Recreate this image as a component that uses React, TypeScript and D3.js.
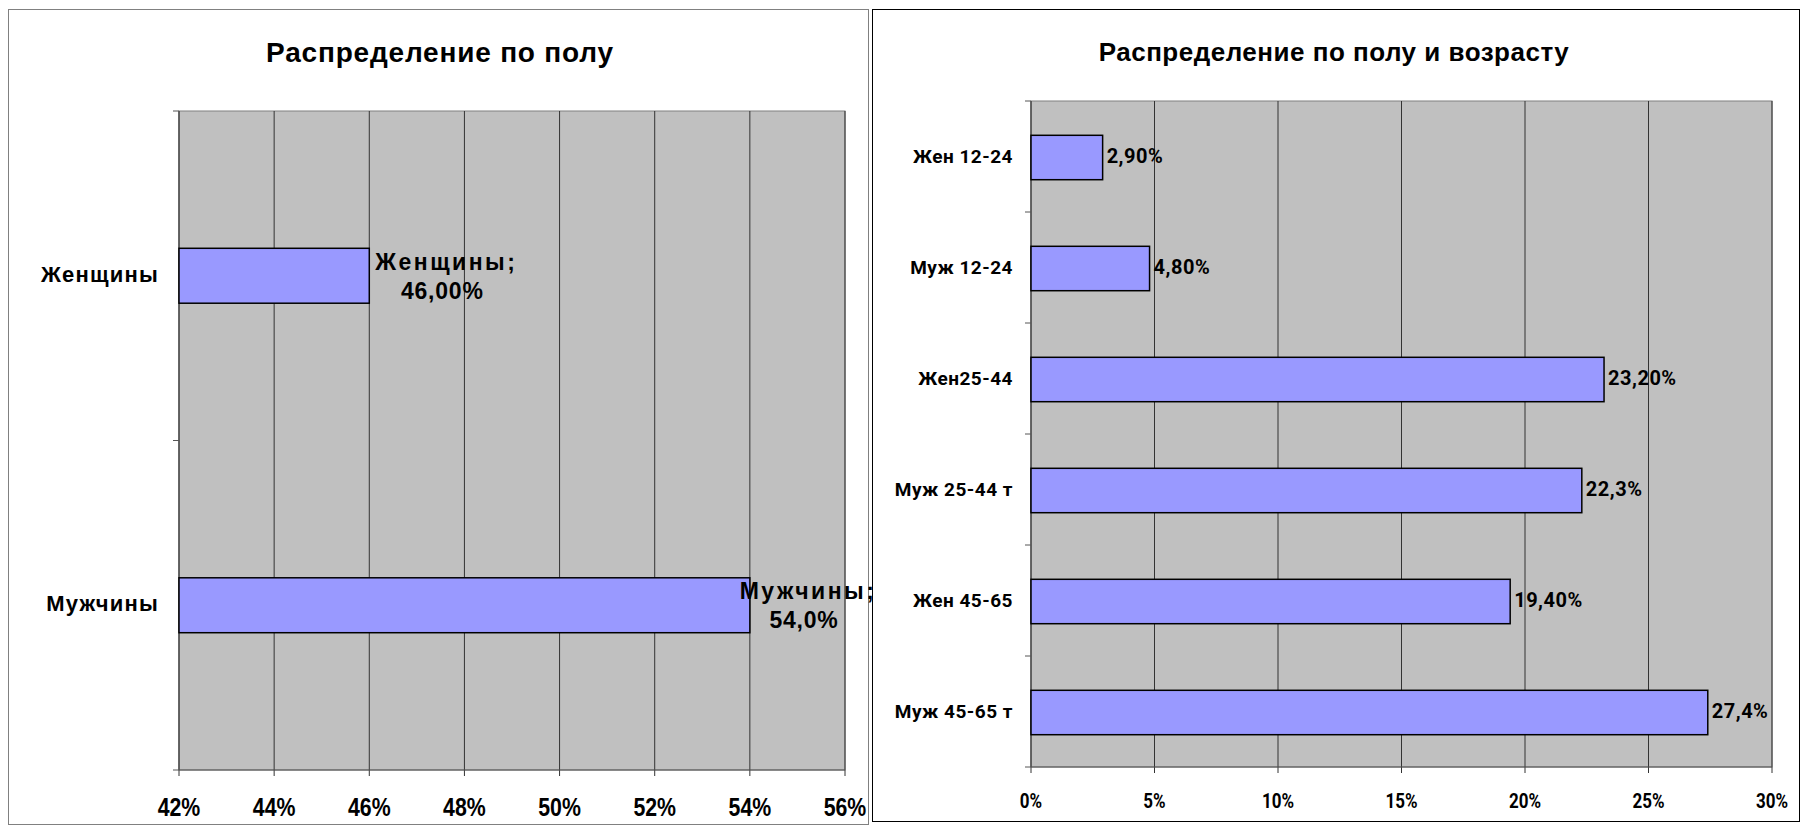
import React from 'react';
import * as d3 from 'd3';

const W = 1808,
      H = 826;

// left chart: gender
const genderCats = ['Женщины', 'Мужчины'];
const genderVals = [46.0, 54.0];
const genderLabels = [['Женщины;', '46,00%'], ['Мужчины;', '54,0%']];
const genderTicks = [42, 44, 46, 48, 50, 52, 54, 56];

// right chart: gender and age
const ageCats = ['Жен 12-24', 'Муж 12-24', 'Жен25-44', 'Муж 25-44 т', 'Жен 45-65', 'Муж 45-65 т'];
const ageVals = [2.9, 4.8, 23.2, 22.3, 19.4, 27.4];
const ageLabels = ['2,90%', '4,80%', '23,20%', '22,3%', '19,40%', '27,4%'];
const ageTicks = [0, 5, 10, 15, 20, 25, 30];

const PLOT_BG = '#c0c0c0';
const BAR = '#9999ff';
const FONT = '"Liberation Sans", Arial, sans-serif';
const ROBOTO = 'Roboto, "Liberation Sans", sans-serif';

const GenderChart = () => {
    const x0 = 179, x1 = 845, y0 = 111, y1 = 770;
    const x = d3.scaleLinear().domain([42, 56]).range([x0, x1]);
    const y = d3.scaleBand().domain(genderCats).range([y0, y1]).padding(0);
    const barH = y.bandwidth() / 6; // gap width 500%
    const bounds = d3.range(genderCats.length + 1).map(i => y0 + i * y.step());

    return (
        <g>
            <rect x={8.5} y={9.5} width={860} height={815} fill="#fff" stroke="#808080" />
            <text x={440} y={55} textAnchor="middle" dominantBaseline="middle"
                  fontFamily={FONT} fontWeight="bold" fontSize={28} letterSpacing={0.8}>Распределение по полу</text>
            <rect x={x0} y={y0} width={x1 - x0} height={y1 - y0} fill={PLOT_BG} stroke="#808080" />
            {genderTicks.map(t => (
                <line key={t} x1={x(t)} x2={x(t)} y1={y0} y2={y1 + 6} stroke="#333" strokeWidth={1} />
            ))}
            {bounds.map((b, i) => (
                <line key={i} x1={x0 - 6} x2={x0} y1={b} y2={b} stroke="#555" />
            ))}
            <line x1={x0} x2={x0} y1={y0} y2={y1} stroke="#555" />
            <line x1={x0} x2={x1} y1={y1} y2={y1} stroke="#555" />
            {genderCats.map((c, i) => {
                const cy = (y(c) as number) + y.bandwidth() / 2;
                const end = x(genderVals[i]);
                const lx = Math.min(end + 77, 808);
                return (
                    <g key={c}>
                        <rect x={x0} y={cy - barH / 2} width={end - x0} height={barH}
                              fill={BAR} stroke="#000" strokeWidth={1.5} />
                        <text x={159} y={cy} textAnchor="end" dominantBaseline="middle"
                              fontFamily={FONT} fontWeight="bold" fontSize={22} letterSpacing={1.2}>{c}</text>
                        <text x={lx} y={cy - 12} textAnchor="middle" dominantBaseline="middle"
                              fontFamily={FONT} fontWeight="bold" fontSize={23} letterSpacing={2.5}>{genderLabels[i][0]}</text>
                        <text x={lx - 4} y={cy + 17} textAnchor="middle" dominantBaseline="middle"
                              fontFamily={FONT} fontWeight="bold" fontSize={23} letterSpacing={0.8}>{genderLabels[i][1]}</text>
                    </g>
                );
            })}
            {genderTicks.map(t => (
                <text key={t} transform={`translate(${x(t)},809) scale(0.82,1)`} textAnchor="middle" dominantBaseline="middle"
                      fontFamily={FONT} fontWeight="bold" fontSize={26}>{t}%</text>
            ))}
        </g>
    );
};

const AgeChart = () => {
    const x0 = 1031, x1 = 1772, y0 = 101, y1 = 767;
    const x = d3.scaleLinear().domain([0, 30]).range([x0, x1]);
    const y = d3.scaleBand().domain(ageCats).range([y0, y1]).padding(0);
    const barH = y.bandwidth() / 2.5; // gap width 150%
    const bounds = d3.range(ageCats.length + 1).map(i => y0 + i * y.step());

    return (
        <g>
            <rect x={872.5} y={9.5} width={927} height={812} fill="#fff" stroke="#000" />
            <text x={1334} y={54} textAnchor="middle" dominantBaseline="middle"
                  fontFamily={FONT} fontWeight="bold" fontSize={26} letterSpacing={0.5}>Распределение по полу и возрасту</text>
            <rect x={x0} y={y0} width={x1 - x0} height={y1 - y0} fill={PLOT_BG} stroke="#808080" />
            {ageTicks.map(t => (
                <line key={t} x1={x(t)} x2={x(t)} y1={y0} y2={y1 + 6} stroke="#333" strokeWidth={1} />
            ))}
            {bounds.map((b, i) => (
                <line key={i} x1={x0 - 6} x2={x0} y1={b} y2={b} stroke="#555" />
            ))}
            <line x1={x0} x2={x0} y1={y0} y2={y1} stroke="#555" />
            <line x1={x0} x2={x1} y1={y1} y2={y1} stroke="#555" />
            {ageCats.map((c, i) => {
                const cy = (y(c) as number) + y.bandwidth() / 2 + 1;
                const end = x(ageVals[i]);
                return (
                    <g key={c}>
                        <rect x={x0} y={cy - barH / 2} width={end - x0} height={barH}
                              fill={BAR} stroke="#000" strokeWidth={1.5} />
                        <text x={1013} y={cy} textAnchor="end" dominantBaseline="middle"
                              fontFamily={ROBOTO} fontWeight="bold" fontSize={19} letterSpacing={0.5}>{c}</text>
                        <text x={end + 4} y={cy} dominantBaseline="middle"
                              fontFamily={ROBOTO} fontWeight="bold" fontSize={20} letterSpacing={0.5}>{ageLabels[i]}</text>
                    </g>
                );
            })}
            {ageTicks.map(t => (
                <text key={t} transform={`translate(${x(t)},803) scale(0.85,1)`} textAnchor="middle" dominantBaseline="middle"
                      fontFamily={ROBOTO} fontWeight="bold" fontSize={20}>{t}%</text>
            ))}
        </g>
    );
};

const App = () => (
    <svg width={W} height={H} viewBox={`0 0 ${W} ${H}`}
         style={{ position: 'absolute', left: 0, top: 0, background: '#fff' }}>
        <GenderChart />
        <AgeChart />
    </svg>
);

export default App;
